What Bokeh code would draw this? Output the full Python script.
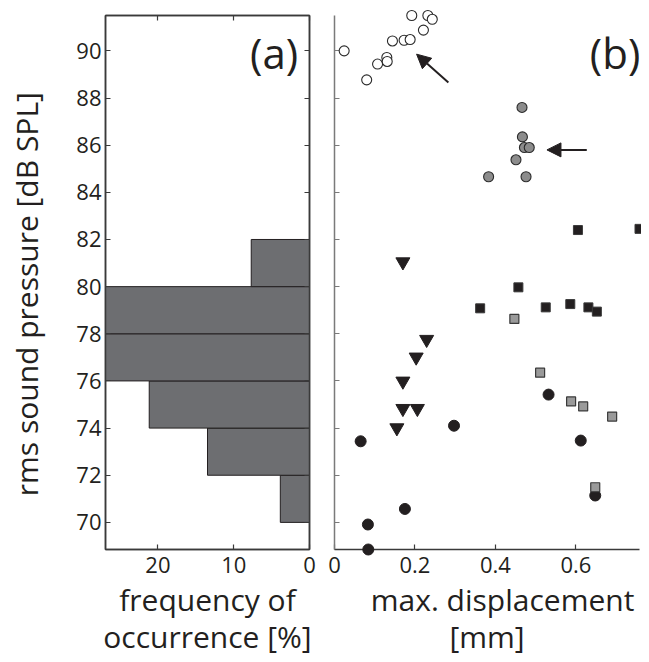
from bokeh.plotting import figure
from bokeh.layouts import row
from bokeh.models import Range1d, LinearAxis, FixedTicker, Label, Arrow, NormalHead
from bokeh.embed import file_html
from bokeh.resources import INLINE

# ---- data ----
bin_lo = [70, 72, 74, 76, 78, 80]
bin_hi = [72, 74, 76, 78, 80, 82]
freq = [3.85, 13.46, 21.15, 26.92, 26.92, 7.69]

open_x = [0.024, 0.080, 0.107, 0.130, 0.131, 0.144, 0.173, 0.188, 0.192, 0.221, 0.232, 0.243]
open_y = [90.00, 88.77, 89.44, 89.72, 89.55, 90.42, 90.45, 90.48, 91.50, 90.88, 91.50, 91.34]

gcirc_x = [0.466, 0.467, 0.472, 0.484, 0.451, 0.383, 0.476]
gcirc_y = [87.60, 86.35, 85.90, 85.90, 85.38, 84.66, 84.66]

bsq_x = [0.605, 0.758, 0.457, 0.362, 0.525, 0.586, 0.631, 0.652]
bsq_y = [82.40, 82.45, 79.97, 79.08, 79.12, 79.26, 79.12, 78.94]

gsq_x = [0.447, 0.511, 0.588, 0.618, 0.690, 0.648]
gsq_y = [78.63, 76.35, 75.13, 74.92, 74.49, 71.49]

tri_x = [0.170, 0.229, 0.203, 0.170, 0.170, 0.206, 0.155]
tri_y = [81.05, 77.76, 77.01, 75.99, 74.83, 74.83, 74.01]

bcirc_x = [0.532, 0.297, 0.065, 0.612, 0.648, 0.175, 0.083, 0.084]
bcirc_y = [75.42, 74.10, 73.44, 73.47, 71.14, 70.57, 69.91, 68.85]

arrow1 = dict(x_start=0.283, y_start=88.66, x_end=0.204, y_end=89.86)
arrow2 = dict(x_start=0.627, y_start=85.80, x_end=0.528, y_end=85.80)

y_ticks = [70, 72, 74, 76, 78, 80, 82, 84, 86, 88, 90]
freq_ticks = [0, 10, 20]
disp_ticks = [0, 0.2, 0.4, 0.6]
disp_labels = ["0", "0.2", "0.4", "0.6"]

NB = "\u00a0"
FONT = "Open Sans"
INK = "#231f20"
AX = "#3a3a3a"
Y0, Y1 = 68.85, 91.5

def style_axis(ax, ticks, labels=True, color=AX):
    ax.ticker = FixedTicker(ticks=ticks)
    ax.major_tick_in = 5
    ax.major_tick_out = 0
    ax.minor_tick_line_color = None
    ax.axis_line_color = color
    ax.major_tick_line_color = color
    ax.axis_line_width = 1.5
    ax.major_tick_line_width = 1.2
    ax.major_label_text_font = FONT
    ax.major_label_text_color = INK
    ax.major_label_text_font_size = "22px"
    ax.axis_label_text_font = FONT
    ax.axis_label_text_font_style = "normal"
    ax.axis_label_text_color = INK
    ax.axis_label_text_font_size = "30px"
    ax.axis_label_text_line_height = 0.92
    if not labels:
        ax.major_label_overrides = {t: "" for t in ticks}
        ax.major_label_standoff = 0

# ---- panel (a) ----
pa = figure(width=319, height=662, x_range=Range1d(26.92, 0), y_range=Range1d(Y0, Y1),
            output_backend="svg", toolbar_location=None,
            min_border_left=105, min_border_right=10, min_border_top=15, min_border_bottom=113)
pa.grid.visible = False
pa.outline_line_color = AX
pa.outline_line_width = 1.5
pa.quad(left=0, right=freq, bottom=bin_lo, top=bin_hi, fill_color="#6d6e71",
        line_color=INK, line_width=1)

style_axis(pa.xaxis[0], freq_ticks)
style_axis(pa.yaxis[0], y_ticks)
pa.xaxis[0].major_label_standoff = 7
pa.xaxis[0].axis_label = "frequency of\noccurrence [%]"
pa.xaxis[0].axis_label_standoff = 3
pa.yaxis[0].axis_label = "rms sound pressure [dB SPL]" + NB * 3
pa.yaxis[0].major_label_standoff = 4
pa.yaxis[0].axis_label_standoff = 26

ax_r = LinearAxis()
style_axis(ax_r, y_ticks, labels=False)
pa.add_layout(ax_r, "right")
ax_t = LinearAxis()
style_axis(ax_t, freq_ticks, labels=False)
pa.add_layout(ax_t, "above")

pa.add_layout(Label(x=1.5, y=89.92, text="(a)", text_align="right", text_baseline="alphabetic",
                    text_font=FONT, text_font_size="42px", text_color=INK))

# ---- panel (b) ----
pb = figure(width=322, height=662, x_range=Range1d(0, 0.758), y_range=pa.y_range,
            output_backend="svg", toolbar_location=None,
            min_border_left=15, min_border_right=2, min_border_top=15, min_border_bottom=113)
pb.grid.visible = False
pb.outline_line_color = None
style_axis(pb.xaxis[0], disp_ticks)
pb.xaxis[0].major_label_overrides = dict(zip(disp_ticks, disp_labels))
pb.xaxis[0].major_label_standoff = 7
pb.xaxis[0].axis_label = NB * 4 + "max. displacement\n[mm]"
pb.xaxis[0].axis_label_standoff = 3
style_axis(pb.yaxis[0], y_ticks, labels=False, color="#7a7a7a")

pb.scatter(bcirc_x, bcirc_y, marker="circle", size=11, fill_color=INK, line_color=INK, level="overlay")
pb.scatter(tri_x, tri_y, marker="inverted_triangle", size=14, fill_color=INK, line_color=INK, level="overlay")
pb.scatter(gsq_x, gsq_y, marker="square", size=9, fill_color="#9a9a9a", line_color="#3a3a3a", line_width=1.2, level="overlay")
pb.scatter(bsq_x, bsq_y, marker="square", size=9, fill_color=INK, line_color="#3a3a3a", level="overlay")
pb.scatter(gcirc_x, gcirc_y, marker="circle", size=10, fill_color="#8c8c8c", line_color="#2a2a2a", line_width=1.1, level="overlay")
pb.scatter(open_x, open_y, marker="circle", size=10, fill_color="white", line_color="#2a2a2a", line_width=1.1, level="overlay")

for a in (arrow1, arrow2):
    pb.add_layout(Arrow(end=NormalHead(size=14, fill_color=INK, line_color=INK),
                        line_color=INK, line_width=2, **a))

pb.add_layout(Label(x=0.76, y=89.92, text="(b)", text_align="right", text_baseline="alphabetic",
                    text_font=FONT, text_font_size="42px", text_color=INK))

layout = row(pa, pb, spacing=0)
open("out.html", "w").write(file_html(layout, INLINE))
